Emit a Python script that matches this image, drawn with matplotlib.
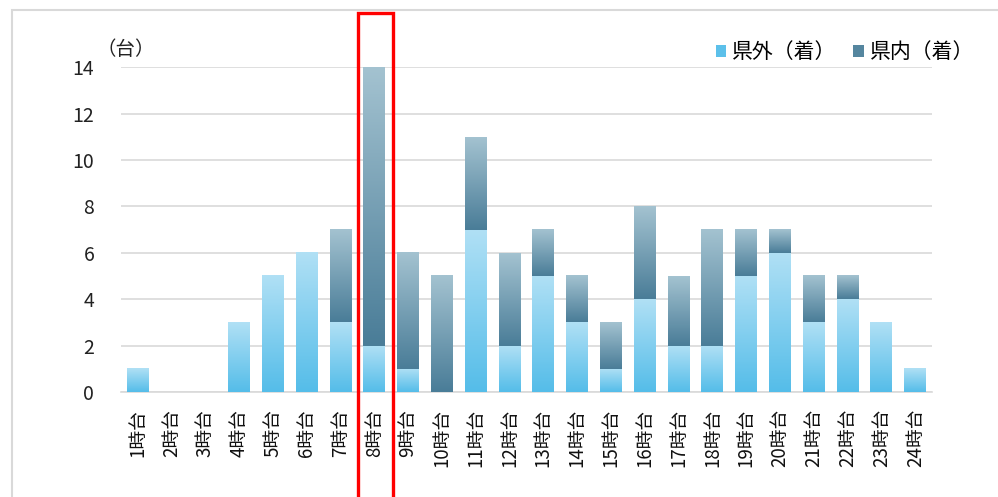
import numpy as np
import matplotlib
matplotlib.use("Agg")
import matplotlib.pyplot as plt
from matplotlib.colors import LinearSegmentedColormap
from matplotlib.patches import Rectangle, Patch

plt.rcParams['font.family'] = ['Noto Sans CJK JP', 'DejaVu Sans']

categories = [f"{h}時台" for h in range(1, 25)]
outside = [1, 0, 0, 3, 5, 6, 3, 2, 1, 0, 7, 2, 5, 3, 1, 4, 2, 2, 5, 6, 3, 4, 3, 1]
inside = [0, 0, 0, 0, 0, 0, 4, 12, 5, 5, 4, 4, 2, 2, 2, 4, 3, 5, 2, 1, 2, 1, 0, 0]
series_names = ["県外（着）", "県内（着）"]

fig = plt.figure(figsize=(9.98, 4.97), dpi=100)
ax = fig.add_axes([0.121, 0.211, 0.813, 0.654])

x = np.arange(len(categories))
w = 0.65
light_cmap = LinearSegmentedColormap.from_list("l", ["#55bde9", "#b0e0f5"])
dark_cmap = LinearSegmentedColormap.from_list("d", ["#4a7d98", "#a3c2d0"])
grad = np.linspace(0, 1, 64).reshape(-1, 1)

b1 = ax.bar(x, outside, w, color='none', edgecolor='none')
b2 = ax.bar(x, inside, w, bottom=outside, color='none', edgecolor='none')
for bars, cmap in ((b1, light_cmap), (b2, dark_cmap)):
    for p in bars:
        if p.get_height() <= 0:
            continue
        x0, y0 = p.get_x(), p.get_y()
        ax.imshow(grad, cmap=cmap, origin='lower', aspect='auto',
                  extent=(x0, x0 + p.get_width(), y0, y0 + p.get_height()),
                  zorder=3, interpolation='bilinear')

ax.set_xlim(-0.5, len(categories) - 0.5)
ax.set_ylim(0, 14)
ax.set_yticks(range(0, 15, 2))
ax.yaxis.grid(True, color='#d9d9d9', lw=1.2)
ax.set_axisbelow(True)
for s in ['top', 'right', 'left']:
    ax.spines[s].set_visible(False)
ax.spines['bottom'].set_color('#d9d9d9')
ax.spines['bottom'].set_linewidth(1.2)
ax.tick_params(axis='y', length=0, pad=19, labelsize=14, labelcolor='#222222')
ax.tick_params(axis='x', length=0, pad=12)
ax.set_xticks(x)
ax.set_xticklabels(categories, rotation=90, fontsize=13.5, color='#111111')

ax.text(-0.35, 14.3, "（台）", fontsize=14, ha='center', va='bottom', color='#222222')

handles = [Patch(facecolor='#5cc0ea'), Patch(facecolor='#55869f')]
fig.legend(handles, series_names, loc='upper right', bbox_to_anchor=(0.995, 0.955),
           ncol=2, frameon=False, fontsize=15, handlelength=0.5, handleheight=0.5,
           handletextpad=0.3, columnspacing=0.8)

# outer chart border
fig.patches.append(Rectangle((12 / 998, -0.1), 1.2, 1 - 10 / 497 + 0.1,
                             transform=fig.transFigure, fill=False,
                             edgecolor='#d9d9d9', lw=1.5))
# red highlight box around 8時台
fig.patches.append(Rectangle((358 / 998, -0.1), 35 / 998, 1 - 13 / 497 + 0.1,
                             transform=fig.transFigure, fill=False,
                             edgecolor='#ff0000', lw=2.4, zorder=10))

fig.savefig("out.png", dpi=100)
